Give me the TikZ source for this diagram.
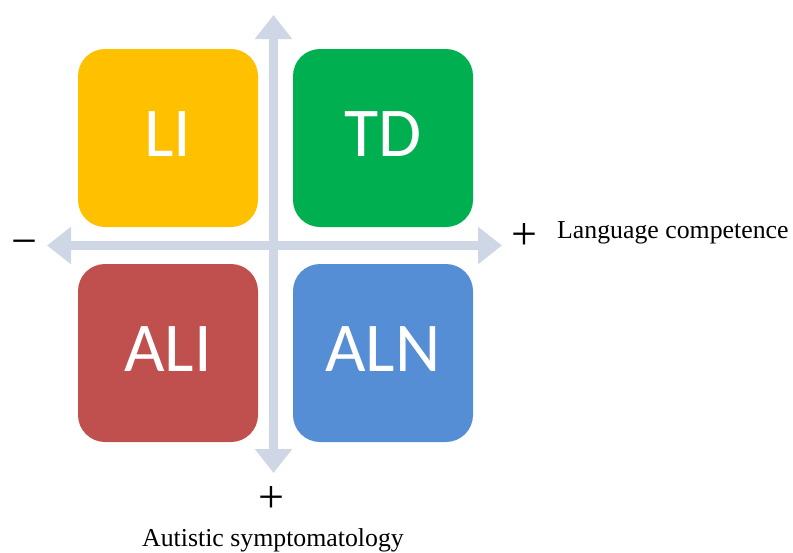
\documentclass[tikz,border=0pt]{standalone}
\usepackage{fontspec}
\setmainfont{Liberation Serif}
\newfontfamily\boxfont{Carlito}
\usetikzlibrary{arrows.meta}

\definecolor{liyellow}{RGB}{255,192,0}
\definecolor{tdgreen}{RGB}{0,176,80}
\definecolor{alired}{RGB}{192,80,77}
\definecolor{alnblue}{RGB}{85,142,213}
\definecolor{axisgray}{RGB}{207,214,229}

\tikzset{
  quadrant/.style={rounded corners=27pt, minimum width=180pt, minimum height=178pt,
    inner sep=0pt, text=white, text depth=7pt,
    font=\boxfont\fontsize{70}{84}\selectfont},
  axisline/.style={draw=axisgray, line width=9pt,
    {Triangle[width=36pt,length=24pt]}-{Triangle[width=36pt,length=24pt]}},
  sign/.style={inner sep=0pt, font=\fontsize{46}{52}\selectfont},
  axislabel/.style={inner sep=0pt, font=\fontsize{25.8}{30}\selectfont}
}

\begin{document}
\begin{tikzpicture}[x=1pt, y=-1pt]
  \useasboundingbox (0,0) rectangle (793,552);

  % axis end points
  \coordinate (vtop) at (273.5,15);
  \coordinate (vbot) at (273.5,473);
  \coordinate (hleft) at (47,245.5);
  \coordinate (hright) at (502,245.5);

  % the two double-headed axes
  \draw[axisline] (hleft) -- (hright);
  \draw[axisline] (vtop) -- (vbot);

  % the four groups
  \node[quadrant, fill=liyellow] (li)  at (168,138) {LI};
  \node[quadrant, fill=tdgreen]  (td)  at (383,138) {TD};
  \node[quadrant, fill=alired]   (ali) at (168,353) {ALI};
  \node[quadrant, fill=alnblue]  (aln) at (383,353) {ALN};

  % signs and axis titles
  \node[sign] (minus) at (24,248) {−};
  \node[sign] (plusr) at (524.5,237) {+};
  \node[sign] (plusb) at (271,499) {+};
  \node[axislabel, anchor=base west] (lang) at (557,238) {Language competence};
  \node[axislabel, anchor=base] (aut) at (273,546) {Autistic symptomatology};
\end{tikzpicture}
\end{document}
